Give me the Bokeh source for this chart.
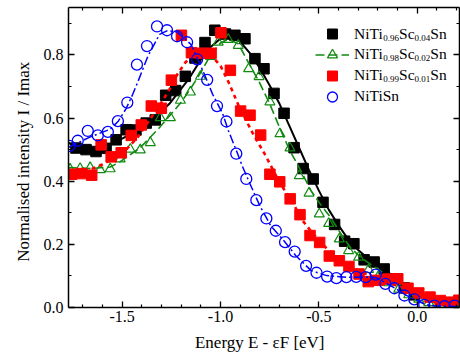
from bokeh.plotting import figure
from bokeh.models import (LinearAxis, FixedTicker, NumeralTickFormatter, Range1d,
                          Label, Legend, LegendItem, CustomJSTickFormatter)
from bokeh.embed import file_html
from bokeh.resources import INLINE

# ---------------- data: energy E - eF [eV] and normalised intensity I/Imax ----------------
# NiTi0.96Sc0.04Sn
black_e = [-1.735, -1.684, -1.633, -1.582, -1.531, -1.480, -1.430, -1.378, -1.332, -1.279,
           -1.228, -1.179, -1.130, -1.079, -1.029, -0.975, -0.927, -0.876, -0.825, -0.779,
           -0.728, -0.677, -0.626, -0.580, -0.529, -0.479, -0.420, -0.369, -0.322, -0.270,
           -0.219, -0.168, -0.116, -0.066, -0.015]
black_i = [0.505, 0.500, 0.494, 0.504, 0.531, 0.563, 0.562, 0.584, 0.594, 0.672,
           0.687, 0.732, 0.790, 0.839, 0.878, 0.866, 0.862, 0.851, 0.788, 0.756,
           0.678, 0.615, 0.506, 0.440, 0.407, 0.333, 0.263, 0.210, 0.202, 0.151,
           0.144, 0.122, 0.091, 0.062, 0.040]
black_fit_e = [-1.773, -1.73, -1.66, -1.56, -1.46, -1.36, -1.26, -1.16, -1.10, -1.05, -1.00,
               -0.95, -0.90, -0.85, -0.80, -0.75, -0.70, -0.65, -0.60, -0.55, -0.50, -0.45,
               -0.40, -0.35, -0.30, -0.25, -0.20, -0.15, -0.10, -0.05, 0.00, 0.05, 0.10,
               0.15, 0.215]
black_fit_i = [0.522, 0.506, 0.500, 0.515, 0.548, 0.585, 0.645, 0.725, 0.785, 0.825, 0.852,
               0.858, 0.842, 0.805, 0.758, 0.703, 0.645, 0.575, 0.505, 0.435, 0.370, 0.310,
               0.260, 0.215, 0.182, 0.155, 0.133, 0.112, 0.090, 0.066, 0.042, 0.025, 0.013,
               0.006, 0.003]

# NiTi0.98Sc0.02Sn
green_e = [-1.765, -1.714, -1.663, -1.612, -1.561, -1.510, -1.459, -1.408, -1.357, -1.306,
           -1.255, -1.204, -1.153, -1.102, -1.051, -1.012, -0.961, -0.910, -0.857, -0.804,
           -0.749, -0.698, -0.647, -0.600, -0.550, -0.498, -0.450, -0.396, -0.349, -0.298,
           -0.247, -0.196, -0.145, -0.094, -0.043, 0.008, 0.059, 0.110, 0.161, 0.212]
green_i = [0.438, 0.440, 0.443, 0.436, 0.439, 0.470, 0.501, 0.499, 0.522, 0.601,
           0.601, 0.656, 0.682, 0.732, 0.795, 0.840, 0.849, 0.830, 0.756, 0.731,
           0.651, 0.550, 0.505, 0.417, 0.362, 0.296, 0.266, 0.217, 0.180, 0.159,
           0.120, 0.100, 0.078, 0.058, 0.040, 0.026, 0.015, 0.009, 0.005, 0.003]
green_fit_e = [-1.773, -1.66, -1.56, -1.51, -1.41, -1.31, -1.20, -1.15, -1.10, -1.05, -1.00,
               -0.96, -0.91, -0.86, -0.80, -0.75, -0.70, -0.65, -0.60, -0.54, -0.49, -0.44,
               -0.39, -0.34, -0.29, -0.24, -0.185, -0.13, -0.08, -0.03, 0.02, 0.07, 0.12,
               0.17, 0.215]
green_fit_i = [0.443, 0.440, 0.445, 0.462, 0.505, 0.570, 0.650, 0.695, 0.745, 0.800, 0.838,
               0.849, 0.835, 0.778, 0.710, 0.645, 0.570, 0.500, 0.443, 0.370, 0.325, 0.285,
               0.235, 0.190, 0.160, 0.138, 0.115, 0.096, 0.074, 0.054, 0.037, 0.022, 0.012,
               0.006, 0.004]

# NiTi0.99Sc0.01Sn
red_e = [-1.757, -1.706, -1.655, -1.607, -1.556, -1.505, -1.454, -1.403, -1.352, -1.301,
         -1.250, -1.199, -1.148, -1.099, -1.048, -0.998, -0.950, -0.898, -0.850, -0.796,
         -0.749, -0.699, -0.646, -0.596, -0.545, -0.496, -0.447, -0.396, -0.347, -0.296,
         -0.249, -0.199, -0.149, -0.099, -0.047, 0.008, 0.065, 0.117, 0.165, 0.212]
red_i = [0.422, 0.424, 0.419, 0.515, 0.477, 0.490, 0.545, 0.578, 0.638, 0.631,
         0.720, 0.862, 0.807, 0.805, 0.805, 0.870, 0.751, 0.622, 0.609, 0.546,
         0.422, 0.398, 0.344, 0.294, 0.228, 0.206, 0.163, 0.148, 0.130, 0.106,
         0.082, 0.086, 0.090, 0.091, 0.061, 0.046, 0.033, 0.022, 0.017, 0.023]
red_fit_e = [-1.773, -1.70, -1.61, -1.55, -1.48, -1.42, -1.36, -1.30, -1.26, -1.22, -1.18,
             -1.13, -1.10, -1.06, -1.00, -0.958, -0.907, -0.838, -0.77, -0.70, -0.634,
             -0.583, -0.54, -0.49, -0.44, -0.39, -0.34, -0.285, -0.23, -0.18, -0.13, -0.08,
             -0.03, 0.02, 0.07, 0.14, 0.215]
red_fit_i = [0.420, 0.428, 0.450, 0.470, 0.500, 0.540, 0.595, 0.650, 0.690, 0.738, 0.775,
             0.808, 0.816, 0.808, 0.765, 0.712, 0.638, 0.554, 0.480, 0.396, 0.333,
             0.275, 0.242, 0.205, 0.175, 0.150, 0.130, 0.113, 0.100, 0.087, 0.075, 0.065,
             0.055, 0.042, 0.030, 0.022, 0.016]

# NiTiSn
blue_e = [-1.768, -1.726, -1.675, -1.624, -1.573, -1.522, -1.474, -1.425, -1.374, -1.323,
          -1.272, -1.221, -1.170, -1.119, -1.068, -1.018, -0.970, -0.920, -0.869, -0.818,
          -0.767, -0.719, -0.672, -0.623, -0.565, -0.512, -0.458, -0.411, -0.360, -0.310,
          -0.262, -0.211, -0.162, -0.116, -0.065, -0.015, 0.036, 0.087, 0.139, 0.190]
blue_i = [0.512, 0.528, 0.559, 0.545, 0.556, 0.590, 0.649, 0.769, 0.828, 0.890,
          0.878, 0.859, 0.840, 0.786, 0.721, 0.638, 0.589, 0.487, 0.407, 0.340,
          0.282, 0.243, 0.207, 0.177, 0.132, 0.110, 0.098, 0.093, 0.096, 0.097,
          0.096, 0.104, 0.075, 0.061, 0.038, 0.026, 0.008, 0.006, 0.004, 0.006]
blue_fit_e = [-1.773, -1.67, -1.56, -1.52, -1.48, -1.45, -1.42, -1.37, -1.31, -1.27, -1.22,
              -1.15, -1.09, -1.04, -0.99, -0.96, -0.915, -0.89, -0.85, -0.80, -0.745,
              -0.685, -0.617, -0.54, -0.46, -0.36, -0.26, -0.21, -0.16, -0.11, -0.06,
              -0.01, 0.04, 0.09, 0.215]
blue_fit_i = [0.507, 0.538, 0.565, 0.590, 0.630, 0.670, 0.715, 0.795, 0.865, 0.877, 0.872,
              0.833, 0.750, 0.675, 0.615, 0.560, 0.490, 0.449, 0.391, 0.322, 0.259,
              0.217, 0.164, 0.117, 0.101, 0.096, 0.096, 0.095, 0.078, 0.060, 0.040,
              0.025, 0.010, 0.005, 0.003]

x_ticks = [-1.5, -1.0, -0.5, 0.0]
x_minor = [-1.7, -1.6, -1.4, -1.3, -1.2, -1.1, -0.9, -0.8, -0.7, -0.6, -0.4, -0.3, -0.2, -0.1, 0.1, 0.2]
y_ticks = [0.0, 0.2, 0.4, 0.6, 0.8]
y_minor = [0.1, 0.3, 0.5, 0.7, 0.9]

x_title = "Energy   E - \u03b5F [eV]"
y_title = "Normalised intensity   I / Imax"

# legend entries: (main, sub, main, sub, main)
labels = [("NiTi", "0.96", "Sc", "0.04", "Sn"),
          ("NiTi", "0.98", "Sc", "0.02", "Sn"),
          ("NiTi", "0.99", "Sc", "0.01", "Sn"),
          ("NiTiSn",)]

FONT = "Liberation Serif"
BLACK, GREEN, RED, BLUE = "#000000", "#108a10", "#ff0000", "#0000ff"

p = figure(width=460, height=363, output_backend="svg", toolbar_location=None,
           x_range=Range1d(-1.773, 0.215), y_range=Range1d(0.0, 0.95),
           min_border_left=68, min_border_right=1, min_border_top=7, min_border_bottom=56,
           x_axis_type=None, y_axis_type=None)
p.grid.visible = False
p.outline_line_color = None
p.background_fill_color = "white"
p.border_fill_color = "white"


def style_axis(ax, ticks, minor, show_labels):
    ax.ticker = FixedTicker(ticks=ticks, minor_ticks=minor)
    ax.axis_line_width = 1.5
    ax.axis_line_color = "black"
    ax.major_tick_in = 6
    ax.major_tick_out = 0
    ax.minor_tick_in = 3
    ax.minor_tick_out = 0
    ax.major_tick_line_width = 1.3
    ax.minor_tick_line_width = 1.2
    if show_labels:
        ax.formatter = NumeralTickFormatter(format="0.0")
        ax.major_label_text_font = FONT
        ax.major_label_text_font_size = "16px"
        ax.major_label_text_color = "black"
        ax.axis_label_text_font = FONT
        ax.axis_label_text_font_size = "17px"
        ax.axis_label_text_font_style = "normal"
        ax.axis_label_text_color = "black"
    else:
        ax.formatter = CustomJSTickFormatter(code="return ''")
        ax.major_label_text_font_size = "0px"
        ax.major_label_standoff = 0


xb = LinearAxis(axis_label=x_title)
style_axis(xb, x_ticks, x_minor, True)
xb.major_label_standoff = 3
xb.axis_label_standoff = 8
yl = LinearAxis(axis_label=y_title)
style_axis(yl, y_ticks, y_minor, True)
yl.major_label_standoff = 5
yl.axis_label_standoff = 8
xt = LinearAxis(); style_axis(xt, x_ticks, x_minor, False)
yr = LinearAxis(); style_axis(yr, y_ticks, y_minor, False)
p.add_layout(xb, "below")
p.add_layout(yl, "left")
p.add_layout(xt, "above")
p.add_layout(yr, "right")

# fitted curves and measured points
bl = p.line(black_fit_e, black_fit_i, line_color=BLACK, line_width=2)
bs = p.scatter(black_e, black_i, marker="square", size=10.5, fill_color=BLACK, line_color=BLACK)

gl = p.line(green_fit_e, green_fit_i, line_color=GREEN, line_width=1.6, line_dash="9 4")
gs = p.scatter(green_e, green_i, marker="triangle", size=10, fill_color=None,
               line_color=GREEN, line_width=1.2)

rl = p.line(red_fit_e, red_fit_i, line_color=RED, line_width=2.6, line_dash="4 4")
rs = p.scatter(red_e, red_i, marker="square", size=10.5, fill_color=RED, line_color=RED)

ul = p.line(blue_fit_e, blue_fit_i, line_color=BLUE, line_width=1.5, line_dash="9 3 2 3")
us = p.scatter(blue_e, blue_i, marker="circle", size=11, fill_color=None,
               line_color=BLUE, line_width=1.3)

# legend swatches, one small legend per row; label texts are set separately for subscripts
swatches = [[bs], [gl, gs], [rs], [us]]
row_bottoms = [261, 240, 219, 198.5]
for rends, vy in zip(swatches, row_bottoms):
    lg = Legend(items=[LegendItem(label=" ", renderers=rends)],
                location=(247, vy), orientation="vertical",
                glyph_width=34, glyph_height=25, label_height=25, label_width=1,
                label_standoff=0, spacing=0, padding=0, margin=0,
                label_text_font_size="10px",
                background_fill_alpha=0, border_line_alpha=0)
    p.add_layout(lg, "center")

# Times-like advance widths (em) for laying out text pieces
W = {"N": .722, "i": .278, "T": .611, "S": .556, "c": .444, "n": .5, "0": .5, "1": .5,
     "2": .5, "4": .5, "6": .5, "8": .5, "9": .5, ".": .25}


def width(s, size):
    return sum(W.get(ch, .5) for ch in s) * size


MAIN, SUB = 15.5, 9.0
x0, y0, pitch = 285.5, 274.5, 20.8
for row, parts in enumerate(labels):
    x = x0
    yb = y0 - row * pitch
    for k, part in enumerate(parts):
        is_sub = k % 2 == 1
        size = SUB if is_sub else MAIN
        p.add_layout(Label(x=x, y=yb - (4.5 if is_sub else 0), x_units="screen", y_units="screen",
                           text=part, text_font=FONT, text_font_size=f"{size}px",
                           text_color="black", text_baseline="alphabetic", text_align="left"))
        x += width(part, size)

open("out.html", "w").write(file_html(p, INLINE))
